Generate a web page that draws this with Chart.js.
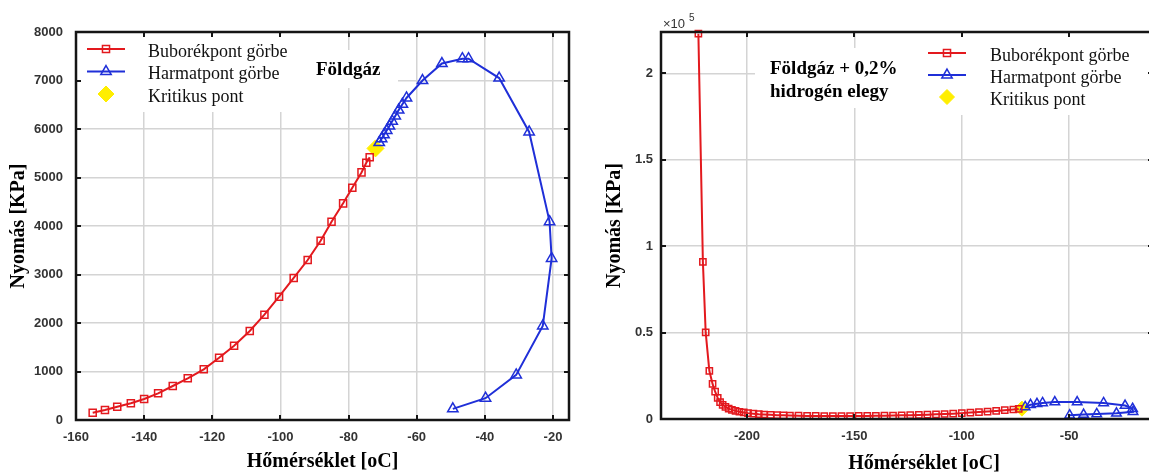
<!DOCTYPE html>
<html>
<head>
<meta charset="utf-8">
<script src="https://cdn.jsdelivr.net/npm/chart.js@4.4.0/dist/chart.umd.min.js"></script>
<style>
  html, body { margin: 0; padding: 0; background: #fff; overflow: hidden; }
  body { width: 1149px; height: 473px; position: relative; }
  .box { position: absolute; top: 0; height: 473px; }
  #left { left: 0; width: 590px; }
  #right { left: 590px; width: 575px; }
</style>
</head>
<body>
<div class="box" id="left"><canvas id="chartLeft"></canvas></div>
<div class="box" id="right"><canvas id="chartRight"></canvas></div>
<script>
// --- Földgáz (bal oldali ábra) ---
const bubT = [-155.1, -151.5, -147.9, -143.9, -140.0, -135.9, -131.6, -127.2, -122.5, -118.0, -113.6, -109.0, -104.7, -100.4, -96.1, -92.0, -88.2, -85.0, -81.6, -78.9, -76.2, -74.8, -73.8];
const bubP = [150, 206, 275, 344, 433, 550, 701, 859, 1045, 1285, 1532, 1835, 2171, 2543, 2928, 3299, 3697, 4089, 4467, 4790, 5105, 5305, 5416];
const dewT = [-71.0, -70.3, -69.6, -68.8, -68.0, -67.2, -66.3, -65.3, -64.2, -63.0, -58.3, -52.6, -46.6, -44.8, -35.8, -27.0, -21.0, -20.4, -23.0, -30.8, -39.8, -49.4];
const dewP = [5720, 5800, 5880, 5970, 6060, 6160, 6270, 6390, 6510, 6640, 7000, 7350, 7450, 7450, 7050, 5940, 4090, 3330, 1940, 930, 450, 230];
const critT = [-72.1];
const critP = [5600];
const xTicksLeft = [-160, -140, -120, -100, -80, -60, -40, -20];
const yTicksLeft = [0, 1000, 2000, 3000, 4000, 5000, 6000, 7000, 8000];

// --- Földgáz + 0,2% hidrogén (jobb oldali ábra) ---
const bub2T = [-222.6, -220.5, -219.2, -217.5, -216.0, -214.8, -213.6, -212.5, -211.3, -210.0, -208.5, -207.0, -205.3, -203.5, -201.5, -199.5, -197.0, -194.5, -192.0, -189.0, -186.0, -183.0, -180.0, -176.0, -172.0, -168.0, -164.0, -160.0, -156.0, -152.0, -148.0, -144.0, -140.0, -136.0, -132.0, -128.0, -124.0, -120.0, -116.0, -112.0, -108.0, -104.0, -100.0, -96.0, -92.0, -88.0, -84.0, -80.0, -76.0, -73.5];
const bub2P = [223000, 90900, 50100, 27900, 20300, 15800, 12200, 9800, 8200, 7000, 6000, 5300, 4700, 4200, 3800, 3400, 3100, 2800, 2600, 2400, 2200, 2100, 2000, 1900, 1800, 1750, 1700, 1700, 1700, 1700, 1750, 1800, 1850, 1900, 2000, 2100, 2200, 2350, 2500, 2700, 2900, 3100, 3400, 3700, 4000, 4300, 4700, 5100, 5500, 5800];
const dew2T = [-70.5, -68.0, -65.0, -62.4, -56.7, -46.3, -34.0, -24.0, -20.5, -20.3, -28.0, -37.2, -43.3, -49.8];
const dew2P = [7000, 8200, 8800, 9300, 9800, 9800, 9300, 7800, 6000, 4200, 3300, 2900, 2600, 2200];
const crit2T = [-72.0];
const crit2P = [6000];
const xTicksRight = [-200, -150, -100, -50];
const yTicksRight = [0, 50000, 100000, 150000, 200000];

const labels = ['Buborékpont görbe', 'Harmatpont görbe', 'Kritikus pont'];
const RED = '#e3191e', BLUE = '#1f2fd8', YELLOW = '#ffee00';
const SANS = "'Liberation Sans', Arial, sans-serif";
const SERIF = "'Liberation Serif', 'Times New Roman', serif";

function pts(xs, ys) {
  return xs.map((x, i) => ({ x: x, y: ys[i] }));
}

// keret, befelé mutató osztások, jelmagyarázat, feliratok
const matlabBox = {
  id: 'matlabBox',
  afterDatasetsDraw(chart, args, opts) {
    const ctx = chart.ctx;
    ctx.save();
    (opts.boxes || []).forEach(b => {
      ctx.fillStyle = '#fff';
      ctx.fillRect(b.x, b.y, b.w, b.h);
    });
    const lg = opts.legend;
    if (lg) {
      chart.data.datasets.forEach((ds, i) => {
        const y = lg.y + i * lg.gap;
        const cx = lg.x + lg.len / 2;
        if (ds.showLine) {
          ctx.strokeStyle = ds.borderColor;
          ctx.lineWidth = 2;
          ctx.beginPath();
          ctx.moveTo(lg.x, y);
          ctx.lineTo(lg.x + lg.len, y);
          ctx.stroke();
        }
        ctx.fillStyle = ds.pointBackgroundColor;
        ctx.strokeStyle = ds.pointBorderColor;
        ctx.lineWidth = ds.pointBorderWidth;
        Chart.helpers.drawPoint(ctx, {
          pointStyle: ds.pointStyle, rotation: 0,
          radius: lg.radius[i], borderWidth: ds.pointBorderWidth
        }, cx, y);
        ctx.fillStyle = '#111';
        ctx.font = lg.font;
        ctx.textAlign = 'left';
        ctx.textBaseline = 'alphabetic';
        ctx.fillText(ds.label, lg.textX, y + lg.base);
      });
    }
    (opts.notes || []).forEach(n => {
      ctx.font = n.font;
      ctx.fillStyle = n.color || '#000';
      ctx.textAlign = n.align || 'left';
      ctx.textBaseline = 'alphabetic';
      ctx.fillText(n.text, n.x, n.y);
    });
    ctx.restore();
  },
  afterDraw(chart) {
    const ctx = chart.ctx;
    const { left, top, right, bottom } = chart.chartArea;
    const xs = chart.scales.x, ys = chart.scales.y;
    ctx.save();
    ctx.strokeStyle = '#151515';
    ctx.lineWidth = 2;
    ctx.beginPath();
    xs.ticks.forEach(t => {
      const px = Math.round(xs.getPixelForValue(t.value));
      ctx.moveTo(px, bottom); ctx.lineTo(px, bottom - 5);
      ctx.moveTo(px, top); ctx.lineTo(px, top + 5);
    });
    ys.ticks.forEach(t => {
      const py = Math.round(ys.getPixelForValue(t.value));
      ctx.moveTo(left, py); ctx.lineTo(left + 5, py);
      ctx.moveTo(right, py); ctx.lineTo(right - 5, py);
    });
    ctx.stroke();
    ctx.lineWidth = 2.5;
    ctx.strokeRect(left, top, right - left, bottom - top);
    ctx.restore();
  }
};

function datasets(bT, bP, dT, dP, cT, cP, small) {
  return [
    {
      label: labels[0], data: pts(bT, bP), showLine: true,
      borderColor: RED, borderWidth: 2, tension: 0,
      pointStyle: 'rect', pointRadius: small ? 4.4 : 5,
      pointBackgroundColor: 'rgba(0,0,0,0)', pointBorderColor: RED, pointBorderWidth: 1.5,
      clip: false
    },
    {
      label: labels[1], data: pts(dT, dP), showLine: true,
      borderColor: BLUE, borderWidth: 2, tension: 0,
      pointStyle: 'triangle', pointRadius: small ? 5.5 : 6,
      pointBackgroundColor: 'rgba(0,0,0,0)', pointBorderColor: BLUE, pointBorderWidth: 1.5,
      clip: false
    },
    {
      label: labels[2], data: pts(cT, cP), showLine: false,
      pointStyle: 'rectRot', pointRadius: small ? 7.5 : 8.5,
      pointBackgroundColor: YELLOW, pointBorderColor: YELLOW, pointBorderWidth: 1,
      clip: false
    }
  ];
}

function scaleX(min, max, ticks, height, title) {
  return {
    type: 'linear', min: min, max: max,
    afterBuildTicks: s => { s.ticks = ticks.map(v => ({ value: v })); },
    afterFit: s => { s.height = height; },
    grid: { color: '#d4d4d4', lineWidth: 1.5, drawTicks: false },
    border: { display: false },
    ticks: {
      padding: 10, color: '#333',
      font: { family: SANS, size: 13, weight: 'bold' },
      callback: v => String(v)
    },
    title: {
      display: !!title, text: title, color: '#000',
      font: { family: SERIF, size: 20, weight: 'bold', lineHeight: 1 },
      padding: { top: 0, bottom: 1 }
    }
  };
}

function scaleY(min, max, ticks, width, pad, titlePad, fmt) {
  return {
    type: 'linear', min: min, max: max,
    afterBuildTicks: s => { s.ticks = ticks.map(v => ({ value: v })); },
    afterFit: s => { s.width = width; },
    grid: { color: '#d4d4d4', lineWidth: 1.5, drawTicks: false },
    border: { display: false },
    ticks: {
      padding: pad, color: '#333',
      font: { family: SANS, size: 13, weight: 'bold' },
      callback: fmt
    },
    title: {
      display: true, text: 'Nyomás [KPa]', color: '#000',
      font: { family: SERIF, size: 20, weight: 'bold', lineHeight: 1 },
      padding: { top: titlePad, bottom: 0 }
    }
  };
}

new Chart(document.getElementById('chartLeft'), {
  type: 'scatter',
  data: { datasets: datasets(bubT, bubP, dewT, dewP, critT, critP, false) },
  options: {
    responsive: true, maintainAspectRatio: false, animation: false,
    layout: { padding: { top: 32, right: 21, left: 0, bottom: 0 } },
    scales: {
      x: scaleX(-160, -15.3, xTicksLeft, 53, 'Hőmérséklet [oC]'),
      y: scaleY(0, 8000, yTicksLeft, 76, 13, 9, v => String(v))
    },
    plugins: {
      legend: { display: false },
      tooltip: { enabled: false },
      matlabBox: {
        boxes: [{ x: 78, y: 34, w: 222, h: 78 }, { x: 300, y: 50, w: 98, h: 38 }],
        legend: { x: 87, len: 38, y: 49, gap: 22.5, base: 7.5, textX: 148,
                  radius: [5, 6, 8], font: '18px ' + SERIF },
        notes: [{ text: 'Földgáz', x: 316, y: 75, font: 'bold 19px ' + SERIF }]
      }
    }
  },
  plugins: [matlabBox]
});

new Chart(document.getElementById('chartRight'), {
  type: 'scatter',
  data: { datasets: datasets(bub2T, bub2P, dew2T, dew2P, crit2T, crit2P, true) },
  options: {
    responsive: true, maintainAspectRatio: false, animation: false,
    layout: { padding: { top: 32, right: 12, left: 0, bottom: 0 } },
    scales: {
      x: scaleX(-240, -11, xTicksRight, 54, ''),
      y: scaleY(0, 224000, yTicksRight, 71, 8, 15, v => String(v / 100000))
    },
    plugins: {
      legend: { display: false },
      tooltip: { enabled: false },
      matlabBox: {
        boxes: [{ x: 165, y: 48, w: 170, h: 60 }, { x: 335, y: 34, w: 228, h: 81 }],
        legend: { x: 338, len: 38, y: 53, gap: 22, base: 8, textX: 400,
                  radius: [5, 6, 7.5], font: '18px ' + SERIF },
        notes: [
          { text: 'Földgáz + 0,2%', x: 180, y: 74, font: 'bold 19px ' + SERIF },
          { text: 'hidrogén elegy', x: 180, y: 97, font: 'bold 19px ' + SERIF },
          { text: '×10', x: 73, y: 28, font: '13px ' + SANS, color: '#333' },
          { text: '5', x: 99, y: 21, font: '10px ' + SANS, color: '#333' },
          { text: 'Hőmérséklet [oC]', x: 334, y: 469, align: 'center', font: 'bold 20px ' + SERIF }
        ]
      }
    }
  },
  plugins: [matlabBox]
});
</script>
</body>
</html>
